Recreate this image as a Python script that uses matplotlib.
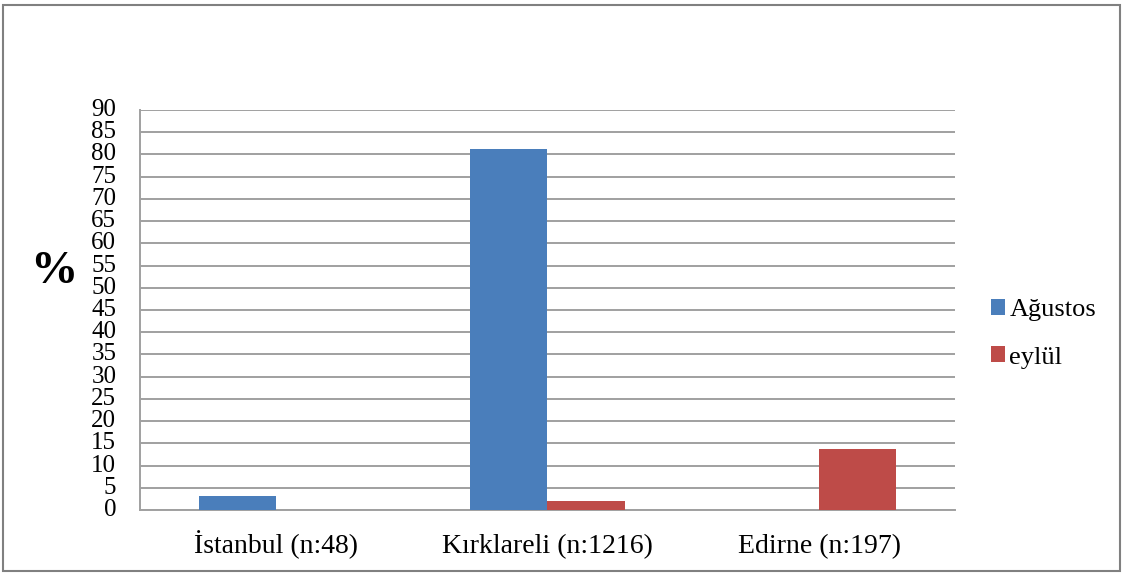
import numpy as np
import matplotlib
matplotlib.use('Agg')
import matplotlib.pyplot as plt
from matplotlib.patches import Rectangle

plt.rcParams['font.family'] = ['Liberation Serif', 'DejaVu Serif']

kategoriler = ['İstanbul (n:48)', 'Kırklareli (n:1216)', 'Edirne (n:197)']
agustos = [3.1, 81.2, 0]
eylul = [0, 2.1, 13.7]
seriler = ['Ağustos', 'eylül']
renkler = ['#4A7EBB', '#BE4B48']

fig = plt.figure(figsize=(11.26, 5.74), dpi=100)
ax = fig.add_axes([0.1243, 0.1115, 0.7237, 0.697])

x = np.arange(len(kategoriler))
w = 0.284
ax.bar(x - w / 2, agustos, w, color=renkler[0], label=seriler[0], zorder=3)
ax.bar(x + w / 2, eylul, w, color=renkler[1], label=seriler[1], zorder=3)

ax.set_xlim(-0.5, 2.5)
ax.set_ylim(0, 90)
ax.set_yticks(np.arange(0, 91, 5))
ax.set_xticks(x)
ax.set_xticklabels(kategoriler, fontsize=20)
ax.tick_params(axis='y', labelsize=18, length=0, pad=17)
ax.tick_params(axis='x', length=0, pad=5)
for lbl in ax.get_yticklabels():
    lbl.set_verticalalignment('center')
    lbl.set_horizontalalignment('right')
for lbl in ax.get_xticklabels():
    lbl.set_verticalalignment('baseline')
    lbl.set_y(-0.09)

ax.yaxis.grid(True, color='#a0a0a0', linewidth=1.4, zorder=0)
ax.set_axisbelow(True)
for s in ['top', 'right']:
    ax.spines[s].set_visible(False)
ax.spines['left'].set_color('#a0a0a0')
ax.spines['bottom'].set_color('#a0a0a0')
ax.spines['left'].set_linewidth(1.4)
ax.spines['bottom'].set_linewidth(1.4)

fig.text(0.048, 0.526, '%', fontsize=34, fontweight='bold', ha='center', va='center')

leg = ax.legend(loc='center left', bbox_to_anchor=(1.015, 0.44), frameon=False,
                fontsize=19, handlelength=0.55, handleheight=0.55, handletextpad=0.15,
                labelspacing=0.95)

fig.patches.append(Rectangle((0.003, 0.006), 0.992, 0.985, transform=fig.transFigure,
                             fill=False, edgecolor='#808080', linewidth=1.5))

fig.savefig('out.png', dpi=100)
